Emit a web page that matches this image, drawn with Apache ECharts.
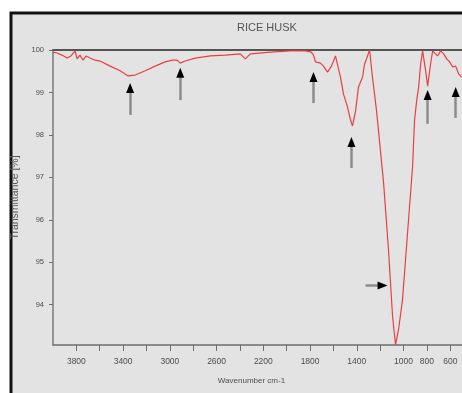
<!DOCTYPE html>
<html>
<head>
<meta charset="utf-8">
<script src="https://cdn.jsdelivr.net/npm/echarts@6/dist/echarts.min.js"></script>
<style>
  html, body { margin: 0; padding: 0; background: #fff; }
  #chart { width: 462px; height: 393px; }
</style>
</head>
<body>
<div id="chart"></div>
<script>
var chart = echarts.init(document.getElementById('chart'));

// spectrum: wavenumber (cm-1) and transmittance (%)
var wavenumber = [4000, 3966, 3923, 3880, 3846, 3811, 3794, 3769, 3743, 3717, 3683, 3640, 3597, 3511, 3426, 3357,
  3297, 3211, 3126, 3040, 2980, 2937, 2911, 2869, 2783, 2654, 2526, 2397, 2354, 2311, 2140, 1969, 1840, 1789,
  1771, 1754, 1711, 1686, 1651, 1617, 1583, 1540, 1514, 1480, 1454, 1437, 1411, 1386, 1351, 1334, 1317, 1291,
  1266, 1231, 1206, 1171, 1129, 1094, 1069, 1043, 1009, 966, 923, 906, 889, 871, 854, 837, 811, 794, 769, 751,
  734, 709, 683, 657, 631, 606, 580, 554, 529, 503];
var transmittance = [99.95, 99.93, 99.88, 99.81, 99.86, 99.98, 99.79, 99.88, 99.76, 99.86, 99.81, 99.76, 99.74, 99.62, 99.51, 99.39,
  99.41, 99.51, 99.62, 99.72, 99.76, 99.76, 99.69, 99.74, 99.81, 99.86, 99.88, 99.91, 99.79, 99.91, 99.95, 99.98, 99.98, 99.95,
  99.88, 99.72, 99.69, 99.62, 99.48, 99.62, 99.86, 99.36, 98.96, 98.66, 98.35, 98.21, 98.56, 99.13, 99.36, 99.67, 99.79, 100.0,
  99.36, 98.56, 97.86, 96.87, 95.29, 93.72, 93.06, 93.41, 94.12, 95.69, 97.25, 98.35, 98.78, 99.13, 99.67, 99.98, 99.51, 99.15, 99.67, 99.98,
  99.95, 99.86, 99.98, 99.91, 99.79, 99.72, 99.6, 99.62, 99.44, 99.36];

// ticks and tick labels
var xTicks = [600, 800, 1000, 1200, 1400, 1600, 1800, 2000, 2200, 2400, 2600, 2800, 3000, 3200, 3400, 3600, 3800];
var xLabels = [600, 800, 1000, 1400, 1800, 2200, 2600, 3000, 3400, 3800];
var yLabels = [94, 95, 96, 97, 98, 99, 100];

// arrows: [wavenumber, base T, tip T]
var upArrows = [[3340, 98.47, 99.22], [2911, 98.82, 99.58], [1771, 98.75, 99.48], [1446, 97.22, 97.95], [794, 98.26, 99.06], [554, 98.40, 99.13]];
// horizontal arrow: [start wavenumber, tip wavenumber, T]
var sideArrow = [1326, 1137, 94.45];

var spectrum = [];
for (var i = 0; i < wavenumber.length; i++) {
    spectrum.push([wavenumber[i], transmittance[i]]);
}

var heads = [];
var shafts = [];
for (var j = 0; j < upArrows.length; j++) {
    var a = upArrows[j];
    heads.push({ value: [a[0], a[2]], symbolRotate: 0, symbolOffset: [0, 5] });
    shafts.push([{ coord: [a[0], a[1]] }, { coord: [a[0], a[2] - 0.22] }]);
}
heads.push({ value: [sideArrow[1], sideArrow[2]], symbolRotate: -90, symbolOffset: [-5, 0] });
shafts.push([{ coord: [sideArrow[0], sideArrow[2]] }, { coord: [sideArrow[1] + 75, sideArrow[2]] }]);

chart.setOption({
    backgroundColor: '#fff',
    animation: false,
    graphic: [{
        type: 'rect',
        z: -1,
        shape: { x: 11, y: 13, width: 470, height: 400 },
        style: { fill: '#e3e3e3', stroke: '#111', lineWidth: 3 }
    }],
    title: {
        text: 'RICE HUSK',
        left: 232,
        top: 17,
        textStyle: { color: '#555', fontFamily: 'Liberation Sans', fontSize: 11, fontWeight: 'normal' }
    },
    grid: { left: 53, right: 0, top: 50, bottom: 48 },
    xAxis: [{
        type: 'value',
        inverse: true,
        min: 500,
        max: 4000,
        name: 'Wavenumber cm-1',
        nameLocation: 'middle',
        nameGap: 32,
        nameTextStyle: { color: '#4d4d4d', fontFamily: 'Liberation Sans', fontSize: 8, padding: [0, 12, 0, 0] },
        splitLine: { show: false },
        axisLine: { lineStyle: { color: '#6e6e6e', width: 1.5 } },
        axisTick: { length: 6, customValues: xTicks, lineStyle: { color: '#6e6e6e' } },
        axisLabel: {
            margin: 12,
            fontSize: 8.5,
            color: '#4d4d4d',
            fontFamily: 'Liberation Sans',
            customValues: xLabels,
            formatter: function (v) { return String(v); }
        }
    }, {
        type: 'value',
        position: 'top',
        min: 500,
        max: 4000,
        axisLine: { lineStyle: { color: '#555', width: 2 } },
        axisTick: { show: false },
        axisLabel: { show: false },
        splitLine: { show: false }
    }],
    yAxis: {
        type: 'value',
        min: 93.05,
        max: 100,
        name: 'Transmittance [%]',
        nameLocation: 'middle',
        nameRotate: 90,
        nameGap: 32,
        nameTextStyle: { color: '#555', fontFamily: 'Liberation Sans', fontSize: 10.5 },
        splitLine: { show: false },
        axisLine: { show: true, lineStyle: { color: '#7a7a7a', width: 1.5 } },
        axisTick: { show: true, length: 4, customValues: yLabels, lineStyle: { color: '#6e6e6e' } },
        axisLabel: {
            margin: 9, fontSize: 7.5, color: '#4d4d4d', fontFamily: 'Liberation Sans', customValues: yLabels,
            formatter: function (v) { return String(v); }
        }
    },
    series: [{
        type: 'line',
        data: spectrum,
        showSymbol: false,
        symbol: 'none',
        lineStyle: { color: '#e8403f', width: 1.2 },
        z: 3
    }, {
        type: 'scatter',
        data: heads,
        symbol: 'triangle',
        symbolSize: [8, 10],
        itemStyle: { color: '#000', opacity: 1 },
        z: 5,
        markLine: {
            silent: true,
            z: 4,
            symbol: ['none', 'none'],
            label: { show: false },
            lineStyle: { color: '#8c8c8c', width: 2.5, type: 'solid' },
            data: shafts
        }
    }]
});
</script>
</body>
</html>
